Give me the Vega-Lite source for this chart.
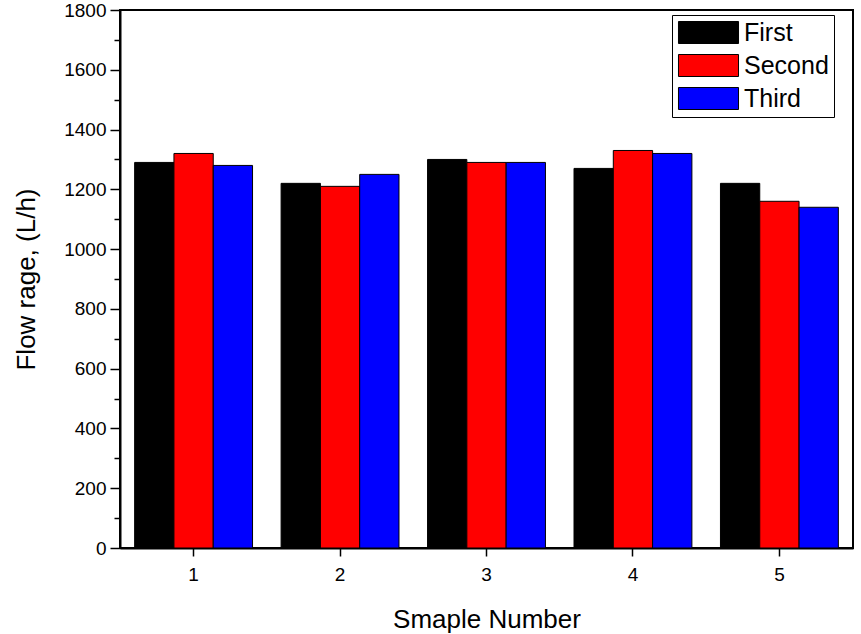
{
  "$schema": "https://vega.github.io/schema/vega-lite/v6.json",
  "width": 733,
  "height": 538,
  "autosize": {"type": "none"},
  "padding": {"left": 120, "top": 10, "right": 8, "bottom": 86},
  "background": "white",
  "config": {
    "view": {"stroke": "black", "strokeWidth": 2},
    "font": "Liberation Sans",
    "axis": {"domainColor": "black", "domainWidth": 2, "tickColor": "black", "tickWidth": 1.5, "labelColor": "black", "titleColor": "black", "labelFont": "Liberation Sans", "titleFont": "Liberation Sans", "titleFontWeight": "normal", "grid": false}
  },
  "data": {
    "values": [
      {"sample": "1", "run": "First", "flow": 1290},
      {"sample": "1", "run": "Second", "flow": 1320},
      {"sample": "1", "run": "Third", "flow": 1280},
      {"sample": "2", "run": "First", "flow": 1220},
      {"sample": "2", "run": "Second", "flow": 1210},
      {"sample": "2", "run": "Third", "flow": 1250},
      {"sample": "3", "run": "First", "flow": 1300},
      {"sample": "3", "run": "Second", "flow": 1290},
      {"sample": "3", "run": "Third", "flow": 1290},
      {"sample": "4", "run": "First", "flow": 1270},
      {"sample": "4", "run": "Second", "flow": 1330},
      {"sample": "4", "run": "Third", "flow": 1320},
      {"sample": "5", "run": "First", "flow": 1220},
      {"sample": "5", "run": "Second", "flow": 1160},
      {"sample": "5", "run": "Third", "flow": 1140}
    ]
  },
  "mark": {"type": "bar", "stroke": "black", "strokeWidth": 1},
  "encoding": {
    "x": {
      "field": "sample", "type": "nominal",
      "scale": {"paddingInner": 0.195, "paddingOuter": 0.1},
      "axis": {"title": "Smaple Number", "labelAngle": 0, "labelFontSize": 19, "titleFontSize": 26, "tickSize": 8, "labelPadding": 9, "titlePadding": 22}
    },
    "xOffset": {"field": "run", "type": "nominal", "sort": ["First", "Second", "Third"]},
    "y": {
      "field": "flow", "type": "quantitative",
      "scale": {"domain": [0, 1800], "nice": false},
      "axis": {
        "title": "Flow rage, (L/h)",
        "format": "d",
        "values": [0, 100, 200, 300, 400, 500, 600, 700, 800, 900, 1000, 1100, 1200, 1300, 1400, 1500, 1600, 1700, 1800],
        "labelExpr": "datum.value % 200 === 0 ? datum.label : ''",
        "tickSize": {"condition": {"test": "datum.value % 200 === 0", "value": 10}, "value": 6},
        "labelFontSize": 19, "titleFontSize": 26, "labelPadding": 4, "titlePadding": 24
      }
    },
    "color": {
      "field": "run", "type": "nominal",
      "sort": ["First", "Second", "Third"],
      "scale": {"domain": ["First", "Second", "Third"], "range": ["#000000", "#ff0000", "#0000ff"]},
      "legend": {
        "title": null,
        "orient": "none",
        "legendX": 552,
        "legendY": 5,
        "symbolType": "M-2.73,-1L2.73,-1L2.73,1L-2.73,1Z",
        "symbolSize": 484,
        "symbolOffset": 19,
        "symbolStrokeColor": "black",
        "symbolStrokeWidth": 1,
        "symbolOpacity": 1,
        "labelFontSize": 25,
        "labelColor": "black",
        "labelOffset": 23,
        "rowPadding": 6,
        "padding": 5,
        "strokeColor": "black",
        "fillColor": "white"
      }
    }
  }
}
